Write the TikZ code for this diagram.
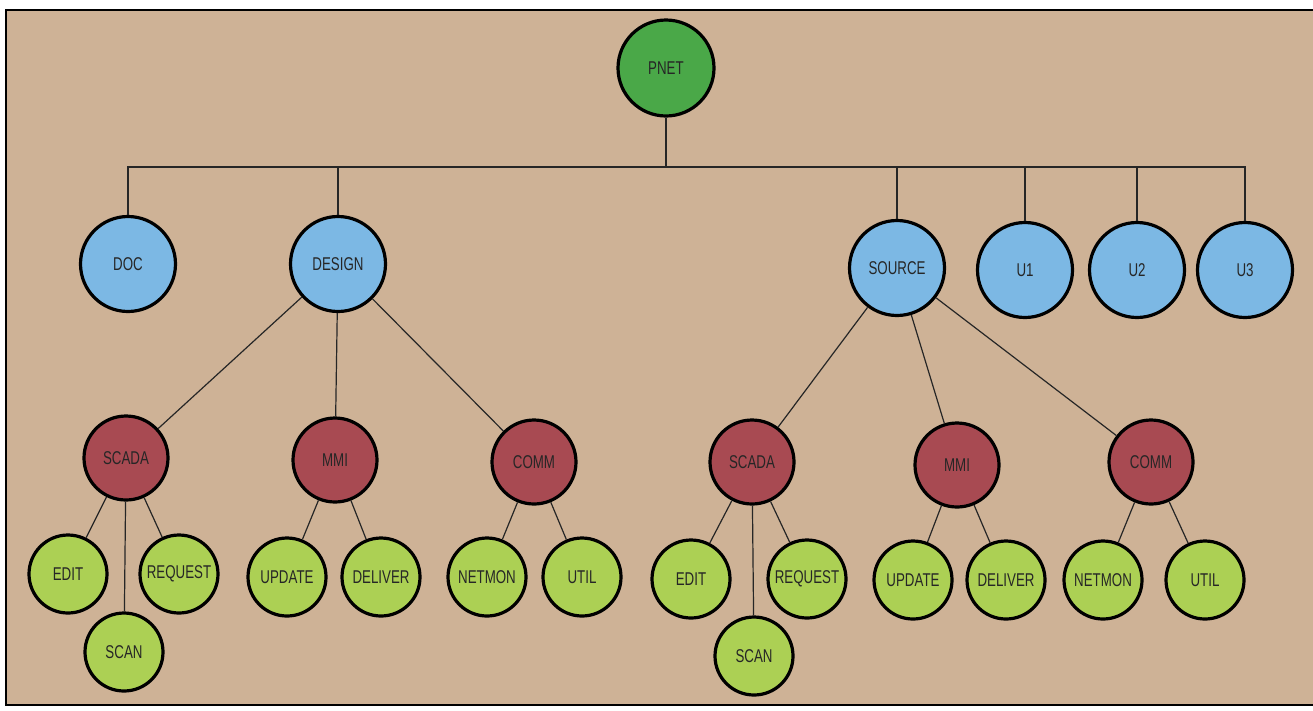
\documentclass[tikz,border=0pt]{standalone}
\usepackage{fontspec}
\setmainfont{Liberation Sans}[FakeStretch=0.72]
\usepackage{tikz}
\usetikzlibrary{positioning}
\definecolor{boardTan}{RGB}{206,178,150}
\definecolor{rootGreen}{RGB}{74,168,72}
\definecolor{dirBlue}{RGB}{124,184,228}
\definecolor{modRed}{RGB}{168,74,82}
\definecolor{leafGreen}{RGB}{172,208,84}
\tikzset{
  treeNode/.style={circle,draw=black,line width=3.2pt,fill=#1,inner sep=0pt,
                   font=\fontsize{18.5}{21}\selectfont,text=black!85},
  rootNode/.style={treeNode=rootGreen,minimum size=96pt},
  dirNode/.style={treeNode=dirBlue,minimum size=95pt},
  modNode/.style={treeNode=modRed,minimum size=84pt},
  leafNode/.style={treeNode=leafGreen,minimum size=78pt},
  treeLink/.style={line width=1.2pt,draw=black!85},
}

\begin{document}
\begin{tikzpicture}[x=1pt,y=-1pt]
  \useasboundingbox (0,0) rectangle (1313,710);
  \fill[white] (0,0) rectangle (1313,710);
  \fill[boardTan] (6,10) rectangle (1313,705);
  \draw[line width=2.4pt] (1313,10) -- (6,10) -- (6,705) -- (1313,705);
  % root and first level
  \node[rootNode] (pnet) at (666,68) {PNET};
  \coordinate (bus) at (666,167);
  \node[dirNode] (doc) at (128,264) {DOC};
  \node[dirNode] (design) at (338,264) {DESIGN};
  \node[dirNode] (source) at (897,268) {SOURCE};
  \node[dirNode] (uone) at (1025,270) {U1};
  \node[dirNode] (utwo) at (1137,270) {U2};
  \node[dirNode] (uthree) at (1245,270) {U3};
  % modules
  \node[modNode] (dscada) at (126,458) {SCADA};
  \node[modNode] (dmmi) at (335,460) {MMI};
  \node[modNode] (dcomm) at (534,462) {COMM};
  \node[modNode] (sscada) at (752,462) {SCADA};
  \node[modNode] (smmi) at (957,465) {MMI};
  \node[modNode] (scomm) at (1151,462) {COMM};
  % leaves
  \node[leafNode] (dedit) at (68,574) {EDIT};
  \node[leafNode] (drequest) at (179,574) {REQUEST};
  \node[leafNode] (dscan) at (124,652) {SCAN};
  \node[leafNode] (dupdate) at (287,577) {UPDATE};
  \node[leafNode] (ddeliver) at (381,577) {DELIVER};
  \node[leafNode] (dnetmon) at (487,577) {NETMON};
  \node[leafNode] (dutil) at (582,577) {UTIL};
  \node[leafNode] (sedit) at (691,579) {EDIT};
  \node[leafNode] (srequest) at (807,579) {REQUEST};
  \node[leafNode] (sscan) at (754,656) {SCAN};
  \node[leafNode] (supdate) at (913,580) {UPDATE};
  \node[leafNode] (sdeliver) at (1006,580) {DELIVER};
  \node[leafNode] (snetmon) at (1103,580) {NETMON};
  \node[leafNode] (sutil) at (1205,580) {UTIL};
  % connectors
  \draw[treeLink] (pnet) -- (bus);
  \foreach \x in {doc,design,source,uone,utwo,uthree}{\draw[treeLink](\x) |- (bus);}
  \foreach \x/\y in {design/dscada,design/dmmi,design/dcomm,source/sscada,source/smmi,source/scomm,
                     dscada/dedit,dscada/drequest,dscada/dscan,dmmi/dupdate,dmmi/ddeliver,
                     dcomm/dnetmon,dcomm/dutil,sscada/sedit,sscada/srequest,sscada/sscan,
                     smmi/supdate,smmi/sdeliver,scomm/snetmon,scomm/sutil}{\draw[treeLink](\x)--(\y);}
\end{tikzpicture}
\end{document}
